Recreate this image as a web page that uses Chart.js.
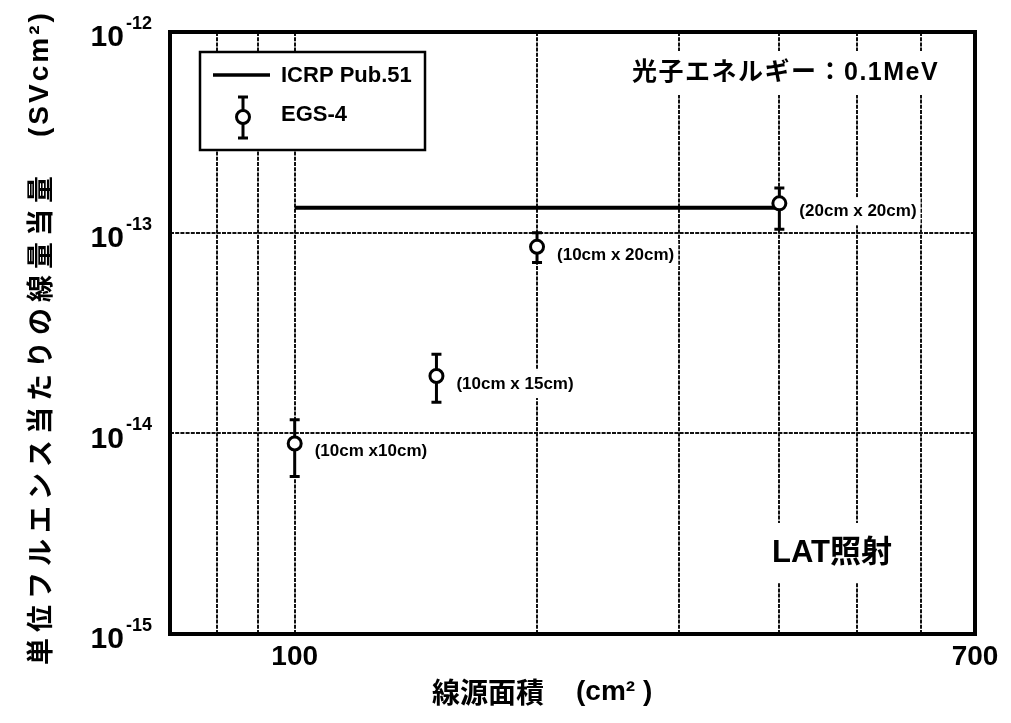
<!DOCTYPE html>
<html lang="ja">
<head>
<meta charset="utf-8">
<title>LAT照射 線量当量</title>
<script src="https://cdn.jsdelivr.net/npm/chart.js@4.4.1/dist/chart.umd.min.js"></script>
<style>
  html, body { margin: 0; padding: 0; background: #fff; }
  #wrap { width: 1011px; height: 723px; }
</style>
</head>
<body>
<div id="wrap"><canvas id="chart"></canvas></div>
<script>
// Data
const areas = [100, 150, 200, 400];                 // cm^2
const egsDose = [8.9e-15, 1.93e-14, 8.5e-14, 1.40e-13];
const egsLow = [6.1e-15, 1.43e-14, 7.1e-14, 1.04e-13];
const egsHigh = [1.17e-14, 2.48e-14, 1.0e-13, 1.67e-13];
const sizeLabels = ['(10cm x10cm)', '(10cm x 15cm)', '(10cm x 20cm)', '(20cm x 20cm)'];

const icrpAreas = [100, 400];
const icrpDose = [1.33e-13, 1.33e-13];

const xTickValues = [70, 80, 90, 100, 200, 300, 400, 500, 600, 700];
const xTickLabels = ['', '', '', '100', '', '', '', '', '', '700'];
const yTickValues = [1e-15, 1e-14, 1e-13, 1e-12];
const yTickExps = ['-15', '-14', '-13', '-12'];

const LATIN = '"Liberation Sans", "Noto Sans CJK JP", sans-serif';
const JP = '"Noto Sans CJK JP", "Liberation Sans", sans-serif';

function errorBar(ctx, x, yTop, yBottom, cap) {
    ctx.beginPath();
    ctx.moveTo(x, yTop);
    ctx.lineTo(x, yBottom);
    ctx.moveTo(x - cap, yTop);
    ctx.lineTo(x + cap, yTop);
    ctx.moveTo(x - cap, yBottom);
    ctx.lineTo(x + cap, yBottom);
    ctx.stroke();
}

// Free text inside the plot; grid lines break around it
const notes = [
    { text: '光子エネルギー：0.1MeV', x: 632, y: 73, font: 'bold 25px ' + LATIN, spacing: '1.5px', pad: [8, 22] },
    { text: 'LAT照射', x: 772, y: 553, font: 'bold 31px ' + LATIN, spacing: '0px', pad: [10, 30] }
];
const LABEL_FONT = 'bold 17px ' + LATIN;

const decorations = {
    id: 'decorations',
    beforeDatasetsDraw(chart) {
        const { ctx, scales: { x, y } } = chart;
        ctx.save();
        ctx.fillStyle = '#fff';
        notes.forEach(n => {
            ctx.font = n.font;
            ctx.letterSpacing = n.spacing;
            const w = ctx.measureText(n.text).width;
            ctx.fillRect(n.x - n.pad[0], n.y - n.pad[1], w + 2 * n.pad[0], 2 * n.pad[1]);
        });
        ctx.letterSpacing = '0px';
        ctx.font = LABEL_FONT;
        areas.forEach((a, i) => {
            const w = ctx.measureText(sizeLabels[i]).width;
            ctx.fillRect(x.getPixelForValue(a) + 16, y.getPixelForValue(egsDose[i]) - 6, w + 8, 28);
        });
        ctx.strokeStyle = '#000';
        ctx.lineWidth = 3;
        areas.forEach((a, i) => {
            errorBar(ctx, x.getPixelForValue(a), y.getPixelForValue(egsHigh[i]), y.getPixelForValue(egsLow[i]), 5);
        });
        ctx.restore();
    },
    afterDatasetsDraw(chart) {
        const { ctx, scales: { x, y } } = chart;
        ctx.save();
        ctx.fillStyle = '#000';
        ctx.textBaseline = 'middle';

        // point annotations
        ctx.font = LABEL_FONT;
        areas.forEach((a, i) => {
            ctx.fillText(sizeLabels[i], x.getPixelForValue(a) + 20, y.getPixelForValue(egsDose[i]) + 8);
        });

        notes.forEach(n => {
            ctx.font = n.font;
            ctx.letterSpacing = n.spacing;
            ctx.fillText(n.text, n.x, n.y);
        });
        ctx.letterSpacing = '0px';

        // legend box
        ctx.fillStyle = '#fff';
        ctx.fillRect(200, 52, 225, 98);
        ctx.strokeStyle = '#000';
        ctx.lineWidth = 2.5;
        ctx.strokeRect(200, 52, 225, 98);
        ctx.lineWidth = 3.5;
        ctx.beginPath();
        ctx.moveTo(213, 75);
        ctx.lineTo(270, 75);
        ctx.stroke();
        ctx.lineWidth = 3;
        errorBar(ctx, 243, 97, 138, 5);
        ctx.beginPath();
        ctx.arc(243, 117, 6.5, 0, Math.PI * 2);
        ctx.fillStyle = '#fff';
        ctx.fill();
        ctx.stroke();
        ctx.fillStyle = '#000';
        ctx.font = 'bold 22px ' + LATIN;
        ctx.fillText('ICRP Pub.51', 281, 76);
        ctx.fillText('EGS-4', 281, 115);
        ctx.restore();
    },
    afterDraw(chart) {
        const { ctx, chartArea: a, scales: { y } } = chart;
        ctx.save();
        // thick frame round the plot
        ctx.strokeStyle = '#000';
        ctx.lineWidth = 4;
        ctx.strokeRect(a.left, a.top, a.right - a.left, a.bottom - a.top);

        // y tick labels with superscript exponents
        ctx.fillStyle = '#000';
        ctx.textBaseline = 'middle';
        ctx.textAlign = 'right';
        yTickValues.forEach((v, i) => {
            const py = y.getPixelForValue(v);
            ctx.font = 'bold 18px ' + LATIN;
            ctx.fillText(yTickExps[i], 152, py - 8);
            const ew = ctx.measureText(yTickExps[i]).width;
            ctx.font = 'bold 30px ' + LATIN;
            ctx.fillText('10', 152 - ew - 2, py + 6);
        });

        // axis titles
        ctx.textAlign = 'left';
        ctx.font = 'bold 28px ' + JP;
        ctx.fillText('線源面積', 432, 692);
        ctx.font = 'bold 28px ' + LATIN;
        ctx.fillText('(cm² )', 576, 692);

        ctx.translate(40, 665);
        ctx.rotate(-Math.PI / 2);
        ctx.font = 'bold 27px ' + JP;
        ctx.letterSpacing = '6px';
        ctx.fillText('単位フルエンス当たりの線量当量', 0, 0);
        ctx.letterSpacing = '3px';
        ctx.font = 'bold 28px ' + LATIN;
        ctx.fillText('(SVcm²)', 528, 0);
        ctx.restore();
    }
};

const gridColor = (ends) => (c) => (c.tick && ends.includes(c.tick.value) ? 'rgba(0,0,0,0)' : '#111');

new Chart(document.getElementById('chart'), {
    type: 'scatter',
    data: {
        datasets: [{
            label: 'EGS-4',
            data: areas.map((a, i) => ({ x: a, y: egsDose[i] })),
            pointRadius: 6.5,
            pointBorderWidth: 3,
            pointBackgroundColor: '#fff',
            pointBorderColor: '#000'
        }, {
            label: 'ICRP Pub.51',
            data: icrpAreas.map((a, i) => ({ x: a, y: icrpDose[i] })),
            showLine: true,
            borderColor: '#000',
            borderWidth: 4,
            pointRadius: 0
        }]
    },
    options: {
        responsive: true,
        maintainAspectRatio: false,
        animation: false,
        layout: { padding: { top: 32, right: 36, left: 0, bottom: 0 } },
        plugins: {
            legend: { display: false },
            tooltip: { enabled: false }
        },
        scales: {
            x: {
                type: 'logarithmic',
                min: 70,
                max: 700,
                afterBuildTicks: (s) => { s.ticks = xTickValues.map(v => ({ value: v })); },
                afterFit: (s) => { s.height = 89; },
                border: { display: false, dash: [4, 1.2] },
                grid: { color: gridColor([70, 700]), lineWidth: 2, drawTicks: false },
                ticks: {
                    autoSkip: false,
                    maxRotation: 0,
                    padding: 6,
                    color: '#000',
                    font: { family: LATIN, size: 28, weight: 'bold' },
                    callback: (v) => xTickLabels[xTickValues.indexOf(v)] || ''
                }
            },
            y: {
                type: 'logarithmic',
                min: 1e-15,
                max: 1e-12,
                afterBuildTicks: (s) => { s.ticks = yTickValues.map(v => ({ value: v })); },
                afterFit: (s) => { s.width = 170; },
                border: { display: false, dash: [4, 1.2] },
                grid: { color: gridColor([1e-15, 1e-12]), lineWidth: 2, drawTicks: false },
                ticks: { display: false }
            }
        }
    },
    plugins: [decorations]
});
</script>
</body>
</html>
